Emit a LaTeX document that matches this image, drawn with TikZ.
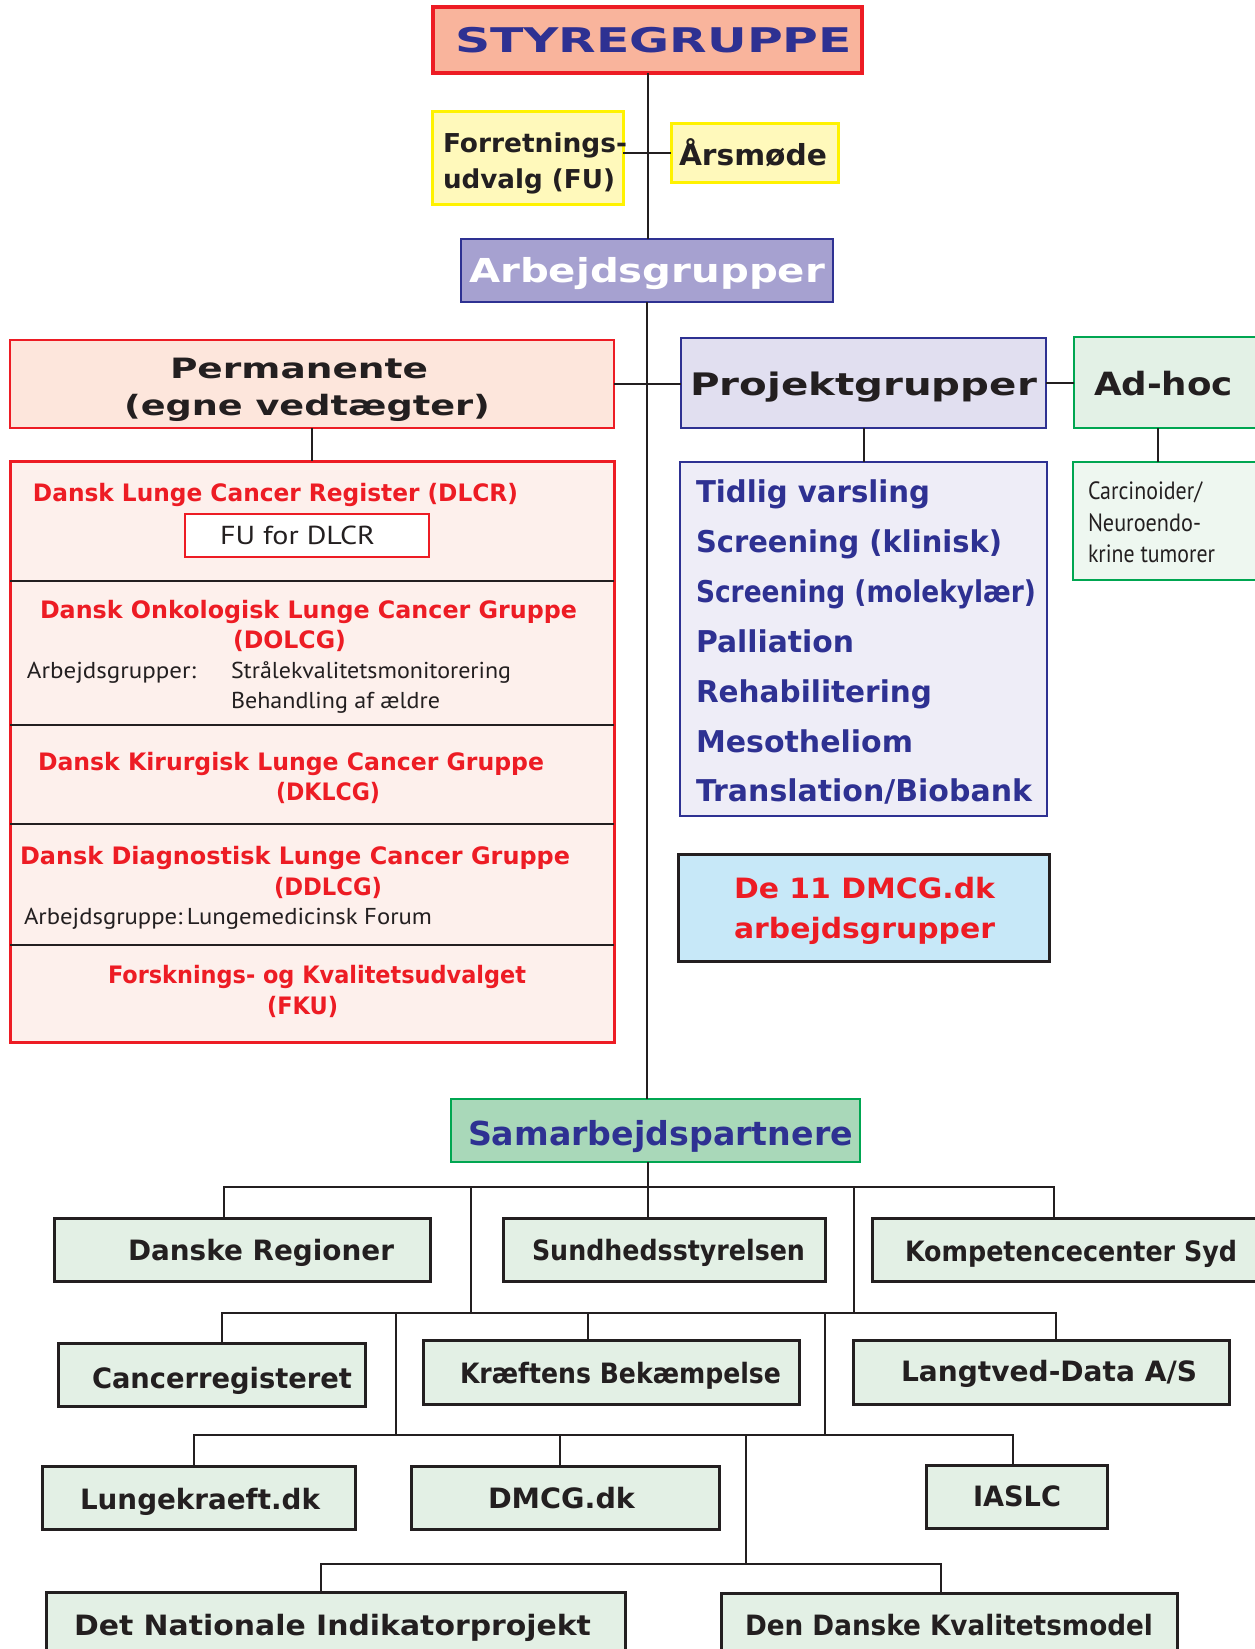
\documentclass[tikz,border=0pt]{standalone}
\usepackage{fontspec}
\usepackage{graphicx}
\setmainfont{DejaVu Sans}
\newfontfamily\rgf{PT Sans}
\usetikzlibrary{fit}
\definecolor{dblue}{HTML}{2E3192}
\definecolor{dred}{HTML}{ED1C24}
\definecolor{ink}{HTML}{231F20}
\definecolor{ygreen}{HTML}{00A651}
\definecolor{yel}{HTML}{FFF200}
\newcommand\fs[1]{\fontsize{#1}{#1}\selectfont}
\newcommand\fw[2]{\resizebox{#1pt}{\height}{#2}}
\tikzset{
  box/.style={draw, inner sep=0pt, outer sep=0pt},
  stybox/.style={box, draw=dred, line width=4pt, fill={rgb,255:red,249;green,180;blue,156}},
  yelbox/.style={box, draw=yel, line width=3pt, fill={rgb,255:red,255;green,249;blue,187}},
  arbbox/.style={box, draw=dblue, line width=2.5pt, fill={rgb,255:red,166;green,161;blue,208}},
  permbox/.style={box, draw=dred, line width=2.5pt, fill={rgb,255:red,253;green,230;blue,220}},
  redlist/.style={box, draw=dred, line width=3pt, fill={rgb,255:red,253;green,240;blue,236}},
  fubox/.style={box, draw=dred, line width=1.2pt, fill=white},
  projbox/.style={box, draw=dblue, line width=2.5pt, fill={rgb,255:red,225;green,223;blue,240}},
  bluelist/.style={box, draw=dblue, line width=2.5pt, fill={rgb,255:red,238;green,237;blue,247}},
  adhocbox/.style={box, draw=ygreen, line width=2.5pt, fill={rgb,255:red,227;green,241;blue,230}},
  adsubbox/.style={box, draw=ygreen, line width=2.5pt, fill={rgb,255:red,238;green,247;blue,240}},
  dmcgbox/.style={box, draw=ink, line width=3pt, fill={rgb,255:red,199;green,232;blue,248}},
  sambox/.style={box, draw=ygreen, line width=2.5pt, fill={rgb,255:red,169;green,216;blue,185}},
  rowbox/.style={box, draw=ink, line width=3pt, fill={rgb,255:red,227;green,240;blue,229}},
  txt/.style={anchor=base west, inner sep=0pt, outer sep=0pt},
  conn/.style={draw=ink, line width=2pt},
  bus/.style={draw=ink, line width=2.8pt},
  divider/.style={draw=ink, line width=2.5pt},
}
\begin{document}
\begin{tikzpicture}[x=1pt,y=1pt]
\useasboundingbox (0,0) rectangle (1255,-1649);
\clip (0,0) rectangle (1255,-1649);
\fill[white] (0,0) rectangle (1255,-1649);

% ---------- top ----------
\node[stybox, fit={(433,-7)(862,-73)}] (sty) {};
\node[yelbox, fit={(432,-111)(623,-204)}] (fu) {};
\node[yelbox, fit={(671,-123)(838,-182)}] (ar) {};
\node[arbbox, fit={(461,-239)(833,-302)}] (arb) {};
\node[permbox, fit={(10,-340)(614,-428)}] (perm) {};
\node[projbox, fit={(681,-338)(1046,-428)}] (proj) {};
\node[adhocbox, fit={(1074,-337)(1265,-428)}] (adhoc) {};

% ---------- middle ----------
\node[redlist, fit={(10,-461)(614,-1042)}] (red) {};
\node[fubox, fit={(185,-514)(429,-557)}] (fud) {};
\node[bluelist, fit={(680,-462)(1047,-816)}] (blue) {};
\node[adsubbox, fit={(1073,-462)(1265,-580)}] (adsub) {};
\node[dmcgbox, fit={(678,-854)(1049,-961)}] (dmcg) {};

% ---------- partners ----------
\node[sambox, fit={(451,-1099)(860,-1162)}] (sam) {};
\node[rowbox, fit={(54,-1218)(430,-1281)}] (dr) {};
\node[rowbox, fit={(503,-1218)(825,-1281)}] (ss) {};
\node[rowbox, fit={(872,-1218)(1265,-1281)}] (kc) {};
\node[rowbox, fit={(58,-1343)(365,-1406)}] (cr) {};
\node[rowbox, fit={(423,-1340)(799,-1404)}] (kb) {};
\node[rowbox, fit={(853,-1340)(1229,-1404)}] (ld) {};
\node[rowbox, fit={(42,-1466)(355,-1529)}] (lk) {};
\node[rowbox, fit={(411,-1466)(719,-1529)}] (dm) {};
\node[rowbox, fit={(926,-1465)(1107,-1528)}] (ia) {};
\node[rowbox, fit={(46,-1592)(625,-1665)}] (ni) {};
\node[rowbox, fit={(721,-1593)(1177,-1665)}] (dk) {};

% ---------- dividers in red list ----------
\coordinate (dv1) at (0,-581);
\coordinate (dv2) at (0,-725);
\coordinate (dv3) at (0,-824);
\coordinate (dv4) at (0,-945);
\foreach \d in {dv1,dv2,dv3,dv4} \draw[divider] (red.west |- \d) -- (red.east |- \d);

% ---------- connectors (top) ----------
\draw[conn] (sty.south) -- (sty.south |- arb.north);
\draw[conn] (fu.east |- ar.west) -- (ar.west);
\draw[conn] (arb.south) -- (arb.south |- sam.north);
\draw[conn] (perm.east) -- (proj.west |- perm.east);
\draw[conn] (proj.east) -- (adhoc.west |- proj.east);
\draw[conn] (perm.south) -- (red.north);
\draw[conn] (proj.south) -- (blue.north);
\coordinate (ahx) at (1158,-428);
\draw[conn] (ahx) -- (ahx |- adsub.north);

% ---------- tree ----------
\coordinate (cx) at (648,-1187);
\coordinate (b1l) at (224,-1187);
\coordinate (b1r) at (1054,-1187);
\coordinate (v1) at (471,-1187);
\coordinate (v2) at (854,-1187);
\coordinate (b2l) at (222,-1313);
\coordinate (b2r) at (1056,-1313);
\coordinate (kbx) at (588,-1313);
\coordinate (v3) at (396,-1313);
\coordinate (v4) at (825,-1313);
\coordinate (b3l) at (194,-1435);
\coordinate (b3r) at (1013,-1435);
\coordinate (dmx) at (560,-1435);
\coordinate (v5) at (746,-1435);
\coordinate (b4l) at (321,-1564);
\coordinate (b4r) at (941,-1564);

\draw[conn] (cx |- sam.south) -- (cx |- ss.north);
\draw[bus] (b1l |- dr.north) -- (b1l) -- (b1r) -- (b1r |- kc.north);
\draw[conn] (v1) -- (v1 |- b2l);
\draw[conn] (v2) -- (v2 |- b2l);
\draw[bus] (b2l |- cr.north) -- (b2l) -- (b2r) -- (b2r |- ld.north);
\draw[conn] (kbx) -- (kbx |- kb.north);
\draw[conn] (v3) -- (v3 |- b3l);
\draw[conn] (v4) -- (v4 |- b3l);
\draw[bus] (b3l |- lk.north) -- (b3l) -- (b3r) -- (b3r |- ia.north);
\draw[conn] (dmx) -- (dmx |- dm.north);
\draw[conn] (v5) -- (v5 |- b4l);
\draw[bus] (b4l |- ni.north) -- (b4l) -- (b4r) -- (b4r |- dk.north);

% ---------- texts ----------
\node[txt,text=dblue] (tsty) at (455,-52) {\bfseries\fs{34}\fw{397}{STYREGRUPPE}};
\node[txt,text=ink] (tfu1) at (443,-152) {\bfseries\fs{26}\fw{184}{Forretnings-}};
\node[txt,text=ink] (tfu2) at (443,-188) {\bfseries\fs{26}\fw{172}{udvalg (FU)}};
\node[txt,text=ink] (tar) at (679,-165) {\bfseries\fs{29}\fw{148}{Årsmøde}};
\node[txt,text=white] (tarb) at (469,-282) {\bfseries\fs{33}\fw{356}{Arbejdsgrupper}};
\node[txt,text=ink] (tperm1) at (170,-378) {\bfseries\fs{28}\fw{258}{Permanente}};
\node[txt,text=ink] (tperm2) at (124,-415) {\bfseries\fs{28}\fw{366}{(egne vedtægter)}};
\node[txt,text=ink] (tproj) at (690,-395) {\bfseries\fs{31}\fw{347}{Projektgrupper}};
\node[txt,text=ink] (tadhoc) at (1094,-395) {\bfseries\fs{32}\fw{139}{Ad-hoc}};

\node[txt,text=dred] (r1) at (33,-501) {\bfseries\fs{24}\fw{485}{Dansk Lunge Cancer Register (DLCR)}};
\node[txt,text=ink] (tfud) at (220,-544) {\rgf\fs{26}\fw{155}{FU for DLCR}};
\node[txt,text=dred] (r2) at (40,-618) {\bfseries\fs{24}\fw{537}{Dansk Onkologisk Lunge Cancer Gruppe}};
\node[txt,text=dred] (r2b) at (233,-648) {\bfseries\fs{24}\fw{113}{(DOLCG)}};
\node[txt,text=ink] (a1) at (27,-678) {\rgf\fs{23}\fw{169}{Arbejdsgrupper:}};
\node[txt,text=ink] (a2) at (231,-678) {\rgf\fs{23}\fw{280}{Strålekvalitetsmonitorering}};
\node[txt,text=ink] (a3) at (231,-708) {\rgf\fs{23}\fw{209}{Behandling af ældre}};
\node[txt,text=dred] (r3) at (38,-770) {\bfseries\fs{24}\fw{506}{Dansk Kirurgisk Lunge Cancer Gruppe}};
\node[txt,text=dred] (r3b) at (276,-800) {\bfseries\fs{24}\fw{104}{(DKLCG)}};
\node[txt,text=dred] (r4) at (20,-864) {\bfseries\fs{24}\fw{550}{Dansk Diagnostisk Lunge Cancer Gruppe}};
\node[txt,text=dred] (r4b) at (274,-895) {\bfseries\fs{24}\fw{108}{(DDLCG)}};
\node[txt,text=ink] (a4) at (24,-924) {\rgf\fs{23}\fw{408}{Arbejdsgruppe:\,Lungemedicinsk Forum}};
\node[txt,text=dred] (r5) at (108,-983) {\bfseries\fs{24}\fw{418}{Forsknings- og Kvalitetsudvalget}};
\node[txt,text=dred] (r5b) at (267,-1014) {\bfseries\fs{24}\fw{71}{(FKU)}};

\node[txt,text=dblue] (p1) at (696,-502) {\bfseries\fs{30}\fw{234}{Tidlig varsling}};
\node[txt,text=dblue] (p2) at (696,-552) {\bfseries\fs{30}\fw{306}{Screening (klinisk)}};
\node[txt,text=dblue] (p3) at (696,-602) {\bfseries\fs{30}\fw{340}{Screening (molekylær)}};
\node[txt,text=dblue] (p4) at (696,-652) {\bfseries\fs{30}\fw{158}{Palliation}};
\node[txt,text=dblue] (p5) at (696,-702) {\bfseries\fs{30}\fw{236}{Rehabilitering}};
\node[txt,text=dblue] (p6) at (696,-752) {\bfseries\fs{30}\fw{217}{Mesotheliom}};
\node[txt,text=dblue] (p7) at (696,-801) {\bfseries\fs{30}\fw{336}{Translation/Biobank}};

\node[txt,text=ink] (c1) at (1088,-499) {\rgf\fs{25}\fw{114}{Carcinoider/}};
\node[txt,text=ink] (c2) at (1088,-531) {\rgf\fs{25}\fw{113}{Neuroendo-}};
\node[txt,text=ink] (c3) at (1088,-562) {\rgf\fs{25}\fw{127}{krine tumorer}};

\node[txt,text=dred] (dm1) at (734,-898) {\bfseries\fs{28}\fw{261}{De 11 DMCG.dk}};
\node[txt,text=dred] (dm2) at (734,-938) {\bfseries\fs{28}\fw{261}{arbejdsgrupper}};

\node[txt,text=dblue] (tsam) at (468,-1145) {\bfseries\fs{33}\fw{385}{Samarbejdspartnere}};
\node[txt,text=ink] (tdr) at (128,-1260) {\bfseries\fs{28}\fw{266}{Danske Regioner}};
\node[txt,text=ink] (tss) at (532,-1260) {\bfseries\fs{28}\fw{273}{Sundhedsstyrelsen}};
\node[txt,text=ink] (tkc) at (905,-1261) {\bfseries\fs{28}\fw{332}{Kompetencecenter Syd}};
\node[txt,text=ink] (tcr) at (92,-1388) {\bfseries\fs{28}\fw{260}{Cancerregisteret}};
\node[txt,text=ink] (tkb) at (460,-1383) {\bfseries\fs{28}\fw{321}{Kræftens Bekæmpelse}};
\node[txt,text=ink] (tld) at (901,-1381) {\bfseries\fs{28}\fw{296}{Langtved-Data A/S}};
\node[txt,text=ink] (tlk) at (80,-1509) {\bfseries\fs{28}\fw{240}{Lungekraeft.dk}};
\node[txt,text=ink] (tdm) at (488,-1508) {\bfseries\fs{28}\fw{147}{DMCG.dk}};
\node[txt,text=ink] (tia) at (973,-1506) {\bfseries\fs{28}\fw{88}{IASLC}};
\node[txt,text=ink] (tni) at (74,-1635) {\bfseries\fs{28}\fw{517}{Det Nationale Indikatorprojekt}};
\node[txt,text=ink] (tdk) at (745,-1635) {\bfseries\fs{28}\fw{408}{Den Danske Kvalitetsmodel}};
\end{tikzpicture}
\end{document}
